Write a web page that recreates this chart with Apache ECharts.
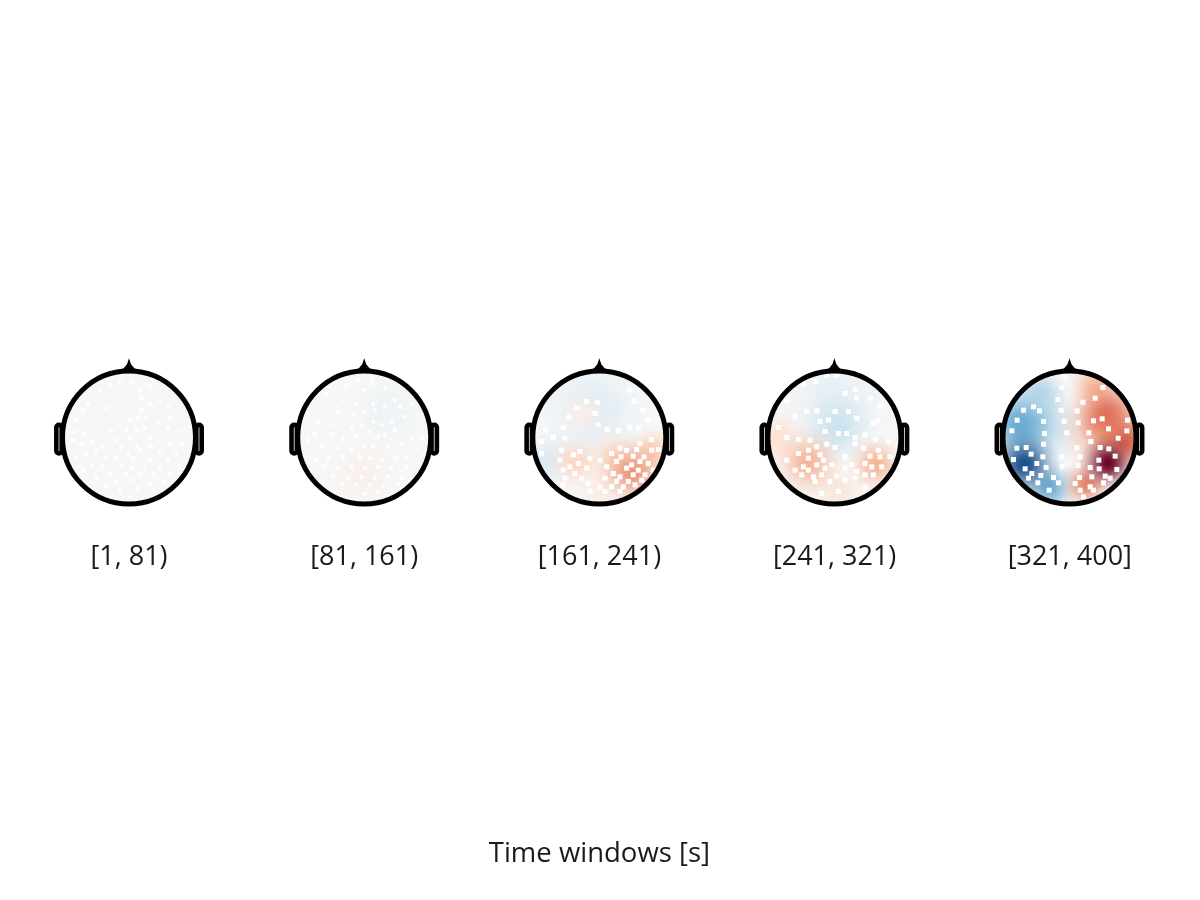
<!DOCTYPE html>
<html><head><meta charset="utf-8">
<script src="https://cdn.jsdelivr.net/npm/echarts@6/dist/echarts.min.js"></script>
<style>html,body{margin:0;background:#fff}#c{width:1200px;height:900px}</style>
</head><body><div id="c"></div>
<script>
// ---------------- data ----------------
const windowLabels = ['[1, 81)', '[81, 161)', '[161, 241)', '[241, 321)', '[321, 400]'];
const axisTitle = 'Time windows [s]';

// scalp-field components per window: [x mm, y mm, value (normalised -1..1), spread mm]
const field1 = [];
const field2 = [[35, 40, -0.05, 70], [0, -55, 0.05, 60]];
const field3 = [
  [-10, 40, -0.12, 100], [-80, -35, -0.15, 50], [-30, 35, 0.06, 45], [-35, -38, 0.22, 45],
  [0, -75, 0.08, 45], [20, -30, 0.2, 45], [80, -20, 0.25, 40], [50, -52, 0.45, 55]
];
const field4 = [
  [0, 50, -0.1, 100], [5, 15, -0.22, 60], [-85, 0, 0.15, 50], [5, -80, 0.12, 50],
  [-40, -38, 0.35, 55], [62, -40, 0.35, 45]
];
const field5 = [
  [-60, 20, -0.4, 80], [60, 15, 0.45, 80], [-45, 65, -0.3, 45], [-75, 20, -0.5, 50],
  [-30, -75, -0.5, 45], [40, 75, 0.35, 45], [55, 35, 0.55, 50], [85, -5, 0.6, 40],
  [25, -70, 0.5, 40], [-68, -40, -0.9, 55], [58, -38, 1.0, 45]
];

// sensor positions per window [x mm, y mm]
const sensors1 = [[-14,84],[3.5,84],[-44,69],[-29,79],[16,71],[31,76],[-61.5,51],[18.5,59],[31,51],[46,56],[-69,41],[-34,44],[18.5,41],[58.5,46],[-79,26],[1,26],[13.5,29],[26,31],[61,29],[-14,20],[43.5,21],[-81.5,9],[-69,6],[-29,9],[-4,11],[11,11],[23.5,14],[58.5,14],[78.5,9],[1,-1],[-19,-4],[31,-1],[46,-4],[-84,-4],[-54,-6],[-71.5,-11],[-39,-14],[-11.5,-14],[11,-14],[31,-14],[61,-9],[81,-9],[-64,-24],[-49,-19],[-34,-29],[-1.5,-24],[16,-19],[46,-21],[71,-24],[-79,-29],[-19,-31],[6,-31],[31,-34],[58.5,-34],[-56.5,-41],[-39,-44],[-11.5,-41],[3.5,-46],[23.5,-44],[46,-46],[76,-41],[-69,-49],[-29,-54],[-4,-54],[16,-56],[36,-56],[61,-54],[-49,-61],[-19,-66],[6,-64],[31,-69],[51,-66],[-34,-74],[-14,-79],[13.5,-76],[36,-79],[1,-89]];
const sensors2 = [[-8,87],[12,87],[-26.5,76],[0,72],[13.5,81],[31,74],[-56.5,66],[-31.5,56],[-11.5,49],[13.5,51],[46,56],[-39,39],[-16.5,34],[1,39],[16,41],[31,46],[53.5,46],[71,51],[-69,24],[-46.5,19],[-19,14],[-4,19],[13.5,24],[26,19],[41,24],[61,31],[-74,6],[-49,4],[-31.5,-1],[-11.5,1],[8.5,9],[21,1],[31,4],[46,11],[71,-1],[86,-1],[-84,-4],[-64,-14],[-41.5,-16],[-19,-19],[-1.5,-14],[13.5,-14],[36,-14],[56,-9],[78.5,-16],[-71.5,-34],[-54,-31],[-31.5,-29],[-6.5,-29],[8.5,-31],[26,-34],[46,-31],[63.5,-29],[-59,-44],[-39,-46],[-19,-44],[1,-46],[21,-44],[41,-46],[63.5,-44],[-46.5,-59],[-24,-61],[-4,-59],[16,-61],[36,-59],[56,-61],[-34,-69],[-11.5,-71],[8.5,-71],[28.5,-74],[51,-69],[1,-84],[21,-81]];
const sensors3 = [[46,71],[52.5,54],[-19,54],[-2.5,53],[-34,44],[-6.5,36],[65,41],[-45.5,31],[73.5,26],[-54,15],[12,12],[28.5,10],[46,15],[58.5,14],[-1.5,19],[-80.5,11],[-69,0],[-51.5,-1],[78.5,-3],[-86.5,-6],[61,-9],[31,-16],[56,-18],[-56.5,-19],[-29,-21],[18.5,-24],[41,-19],[78.5,-19],[88.5,-18],[-86.5,-24],[-39,-26],[-14,-31],[32.5,-29],[51,-28],[67,-29],[-59,-34],[-31.5,-39],[1,-34],[26,-36],[48.5,-41],[61,-36],[73.5,-39],[-44,-44],[-19,-46],[11,-44],[41,-46],[58.5,-49],[81,-49],[-54,-49],[-36.5,-54],[21,-54],[31,-59],[51,-56],[68.5,-56],[-51.5,-61],[-26.5,-61],[8.5,-61],[26,-66],[43.5,-66],[63.5,-64],[-16.5,-69],[1,-74],[18.5,-74],[36,-74],[53.5,-71],[-54,-71],[-14,-81],[8.5,-81],[31,-81]];
const sensors4 = [[-11.5,94],[3.5,94],[-46.5,81],[-29,84],[16,66],[31,72],[33.5,59],[53.5,59],[-71.5,56],[-41.5,39],[-26.5,40],[1,39],[21,39],[68.5,46],[-59,31],[-21.5,24],[-9,26],[33.5,29],[58.5,21],[65,25],[-84,15],[-14,9],[6,6],[18.5,6],[46,4],[-71.5,0],[-54,-3],[-36.5,-4],[-11.5,-10],[31,0],[31,-9],[61,-3],[81,-6],[-26.5,-14],[1,-15],[43.5,-16],[66,-19],[-54,-24],[-39,-19],[-21.5,-26],[16,-29],[53.5,-28],[68.5,-29],[83.5,-29],[-71.5,-34],[-39,-31],[-16.5,-34],[-4,-41],[26,-41],[46,-39],[56,-44],[-46.5,-44],[-26.5,-41],[-59,-49],[-39,-49],[-14,-46],[16,-46],[33.5,-51],[71,-44],[-49,-56],[-31.5,-59],[-19,-56],[3.5,-58],[46,-56],[58.5,-56],[31,-61],[-29,-66],[-6.5,-66],[16,-64],[46,-74],[-19,-84],[6,-81]];
const sensors5 = [[-8,91],[-11.5,75],[50,75],[-17.5,57],[20,53],[-54,46],[-69,41],[-45,40],[-12.5,41],[11.5,40],[38.5,59],[36,25],[49,28],[87,26],[-78.5,26],[-39,24],[-8,24],[13,22],[58.5,13],[86,10],[-86.5,10],[-37.5,6],[-4,7],[29,7],[73,-1],[32,-6],[-39,-10],[11,-15],[59,-17],[-79,-16],[-65,-15],[-57.5,-25],[46,-15],[-84,-33],[-40,-29],[-11.5,-29],[-49,-39],[16,-29],[44,-34],[68.5,-28],[13,-42],[31,-45],[44.5,-47],[71,-48],[-66.5,-47],[-35,-45],[-11,-43],[-56.5,-54],[-24,-60],[-43,-57],[15,-60],[53.5,-58],[33.5,-59],[-61.5,-61],[-47.5,-68],[-16.5,-68],[31,-74],[51,-68],[-30.5,-79],[16,-79],[36,-79],[21,-89],[8.5,-69],[61,-61]];

// ---------------- layout / styles ----------------
const fields = [field1, field2, field3, field4, field5];
const sensors = [sensors1, sensors2, sensors3, sensors4, sensors5];
const headCx = [129, 364.2, 599.3, 834.4, 1069.5];
const headCy = 437.5;
const BOX = 180;            // px of each head grid
const RANGE = 135;          // mm half-range shown in each grid
const HEAD_R = 96;          // mm, scalp radius
const sensorSize = [3.5, 3.5, 5, 5, 5];
const font = "'Open Sans', 'Noto Sans', sans-serif";
const rdbu = ['#053061','#2166ac','#4393c3','#92c5de','#d1e5f0','#f7f7f7','#fddbc7','#f4a582','#d6604d','#b2182b','#67001f'];
const falloff = [[0, 1], [0.2, 0.88], [0.4, 0.61], [0.6, 0.32], [0.8, 0.12], [1, 0]];

const grids = [], xAxes = [], yAxes = [], series = [], fieldSeriesIdx = [];
for (let i = 0; i < 5; i++) {
  grids.push({left: headCx[i] - BOX / 2, top: headCy - BOX / 2, width: BOX, height: BOX});
  xAxes.push({gridIndex: i, type: 'value', min: -RANGE, max: RANGE, show: false});
  yAxes.push({gridIndex: i, type: 'value', min: -RANGE, max: RANGE, show: false});
  const ax = {xAxisIndex: i, yAxisIndex: i, coordinateSystem: 'cartesian2d', silent: true, animation: false};
  // scalp base
  series.push(Object.assign({type: 'custom', z: 1, data: [[0, 0]],
    renderItem(p, api) {
      const c = api.coord([0, 0]); const r = api.size([HEAD_R + 1, 0])[0];
      return {type: 'circle', shape: {cx: c[0], cy: c[1], r}, style: {fill: '#f7f7f7'}};
    }}, ax));
  // field components
  fieldSeriesIdx.push(series.length);
  series.push(Object.assign({type: 'custom', z: 2, data: fields[i], dimensions: ['x', 'y', 'v', 's'],
    encode: {x: 0, y: 1},
    renderItem(p, api) {
      const c = api.coord([api.value(0), api.value(1)]);
      const r = api.size([api.value(3), 0])[0];
      const col = api.visual('color');
      const m = echarts.color.modifyAlpha;
      return {type: 'circle', shape: {cx: c[0], cy: c[1], r},
        style: {fill: new echarts.graphic.RadialGradient(0.5, 0.5, 0.5,
          falloff.map(f => ({offset: f[0], color: m(col, f[1])})))}};
    }}, ax));
  // white mask outside scalp
  series.push(Object.assign({type: 'custom', z: 3, data: [[0, 0]],
    renderItem(p, api) {
      const c = api.coord([0, 0]);
      return {type: 'ring', shape: {cx: c[0], cy: c[1], r: api.size([RANGE + 10, 0])[0], r0: api.size([HEAD_R + 1, 0])[0]},
        style: {fill: '#ffffff'}};
    }}, ax));
  // sensors
  series.push(Object.assign({type: 'scatter', z: 4, data: sensors[i], symbol: 'rect',
    symbolSize: sensorSize[i], itemStyle: {color: '#ffffff', opacity: 1}}, ax));
  // head outline, nose and ears
  series.push(Object.assign({type: 'custom', z: 5, data: [[0, 0]],
    renderItem(p, api) {
      const c = api.coord([0, 0]);
      const k = api.size([1, 0])[0];
      const pt = (x, y) => [c[0] + x * k, c[1] - y * k];
      const nose = [pt(-18, 99), pt(-8, 104), pt(-3, 110), pt(0, 119), pt(3, 110), pt(8, 104), pt(18, 99)];
      const ear = (sgn) => {
        const x0 = sgn < 0 ? -109 : 101, w = 8;
        const a = pt(x0, 19);
        return {type: 'rect', shape: {x: a[0], y: a[1], width: w * k, height: 43 * k, r: 3},
          style: {fill: 'none', stroke: '#000', lineWidth: 4.6}};
      };
      return {type: 'group', children: [
        ear(-1), ear(1),
        {type: 'polygon', shape: {points: nose}, style: {fill: '#000'}},
        {type: 'circle', shape: {cx: c[0], cy: c[1], r: 99.75 * k}, style: {fill: 'none', stroke: '#000', lineWidth: 5}}
      ]};
    }}, ax));
}
// category axis carrying the window labels and the axis title
grids.push({left: 11.4, right: 12.6, top: 500, bottom: 365.5});
xAxes.push({gridIndex: 5, type: 'category', data: windowLabels,
  axisLine: {show: false}, axisTick: {show: false}, splitLine: {show: false},
  axisLabel: {fontSize: 27, color: '#1a1a1a', fontFamily: font, margin: 9},
  name: axisTitle, nameLocation: 'middle', nameGap: 306,
  nameTextStyle: {fontSize: 27.5, color: '#1a1a1a', fontFamily: font}});
yAxes.push({gridIndex: 5, type: 'value', show: false});

const chart = echarts.init(document.getElementById('c'));
chart.setOption({
  backgroundColor: '#ffffff',
  animation: false,
  grid: grids, xAxis: xAxes, yAxis: yAxes,
  visualMap: {type: 'continuous', show: false, min: -1, max: 1, dimension: 2,
    seriesIndex: fieldSeriesIdx, inRange: {color: rdbu}},
  series
});
</script></body></html>
